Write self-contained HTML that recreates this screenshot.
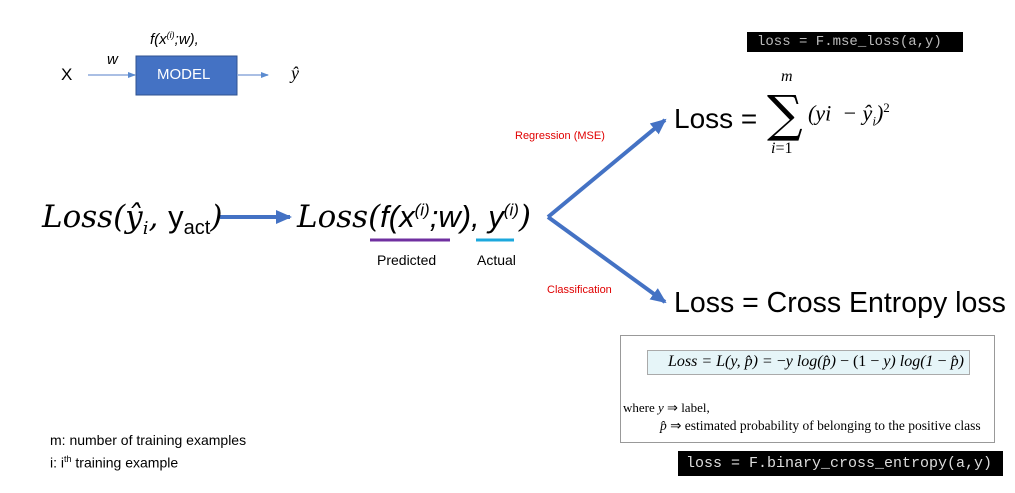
<!DOCTYPE html>
<html><head><meta charset="utf-8"><style>
body{margin:0;width:1015px;height:493px;background:#fff;position:relative;overflow:hidden;font-family:"Liberation Sans",sans-serif;}
.a{position:absolute;white-space:nowrap;}
.m{font-family:"Liberation Serif",serif;font-style:italic;}
.code{position:absolute;background:#000;color:#ddd;font-family:"Liberation Mono",monospace;}
</style></head><body>
<svg width="1015" height="493" style="position:absolute;left:0;top:0">
<defs>
<marker id="s" markerWidth="8" markerHeight="8" refX="7" refY="4" orient="auto" markerUnits="userSpaceOnUse"><path d="M0,1 L8,4 L0,7z" fill="#5b8bd0"/></marker>
<marker id="b" markerWidth="16" markerHeight="16" refX="14" refY="8" orient="auto" markerUnits="userSpaceOnUse"><path d="M0,1 L16,8 L0,15z" fill="#4472C4"/></marker>
</defs>
<line x1="88" y1="75" x2="135" y2="75" stroke="#8eaadb" stroke-width="1.5" marker-end="url(#s)"/>
<rect x="136" y="56" width="101" height="39" fill="#4472C4" stroke="#2f528f"/>
<line x1="237" y1="75" x2="268" y2="75" stroke="#8eaadb" stroke-width="1.5" marker-end="url(#s)"/>
<line x1="220" y1="217" x2="290" y2="217" stroke="#4472C4" stroke-width="4" marker-end="url(#b)"/>
<line x1="370" y1="240" x2="450" y2="240" stroke="#7030a0" stroke-width="3"/>
<line x1="476" y1="240" x2="514" y2="240" stroke="#1ca8dd" stroke-width="3"/>
<line x1="548" y1="217" x2="665" y2="120" stroke="#4472C4" stroke-width="4" marker-end="url(#b)"/>
<line x1="548" y1="217" x2="665" y2="302" stroke="#4472C4" stroke-width="4" marker-end="url(#b)"/>
<rect x="620.5" y="335.5" width="374" height="107" fill="#fff" stroke="#999"/>
<rect x="647.5" y="350.5" width="322" height="24" fill="#e6f5f8" stroke="#aaa"/>
</svg>
<div class="a" style="left:61px;top:65px;font-size:17px">X</div>
<div class="a" style="left:107px;top:51px;font-size:15px;font-style:italic">w</div>
<div class="a" style="left:157px;top:66px;font-size:15px;color:#fff">MODEL</div>
<div class="a" style="left:150px;top:30px;font-size:15px;font-style:italic">f(x<sup style="font-size:9px">(i)</sup>;w),</div>
<div class="a m" style="left:291px;top:63px;font-size:18px">ŷ</div>

<div class="a m" style="left:42px;top:199px;font-size:31px;font-family:'DejaVu Serif',serif">Loss(ŷ<sub style="font-size:18px">i</sub>, <span style="font-family:'Liberation Sans';font-style:normal">y<sub style="font-size:20px">act</sub></span>)</div>
<div class="a" style="left:297px;top:199px;font-size:31px;font-style:italic"><span style="font-family:'DejaVu Serif',serif">Loss(</span>f(x<sup style="font-size:17px">(i)</sup>;w), y<sup style="font-size:17px">(i)</sup><span style="font-family:'DejaVu Serif',serif">)</span></div>
<div class="a" style="left:377px;top:252px;font-size:14px">Predicted</div>
<div class="a" style="left:477px;top:252px;font-size:14px">Actual</div>

<div class="a" style="left:515px;top:130px;font-size:11px;color:#e00000">Regression (MSE)</div>
<div class="a" style="left:547px;top:284px;font-size:11px;color:#e00000">Classification</div>

<div class="code" style="left:747px;top:32px;width:216px;height:20px;font-size:14px;line-height:20px;padding-left:10px;box-sizing:border-box;color:#bbb">loss = F.mse_loss(a,y)</div>
<div class="a" style="left:674px;top:103px;font-size:28px">Loss =</div>
<div class="a" style="left:767px;top:84px;font-size:50px;font-family:'DejaVu Serif',serif;line-height:60px">∑</div>
<div class="a m" style="left:781px;top:68px;font-size:16px">m</div>
<div class="a m" style="left:771px;top:140px;font-size:16px">i<span style="font-style:normal">=1</span></div>
<div class="a m" style="left:808px;top:100px;font-size:22px">(yi &nbsp;− ŷ<sub style="font-size:13px">i</sub>)<sup style="font-size:13px;font-style:normal">2</sup></div>

<div class="a" style="left:674px;top:287px;font-size:28.5px">Loss = Cross Entropy loss</div>

<div class="a m" style="left:668px;top:353px;font-size:16px">Loss = L(y, p̂) = <span style="font-style:normal">−</span>y log(p̂) <span style="font-style:normal">− (1 −</span> y) log(1 <span style="font-style:normal">−</span> p̂)</div>
<div class="a" style="left:623px;top:400px;font-size:13px;font-family:'Liberation Serif',serif">where <i>y</i> ⇒ label,</div>
<div class="a" style="left:660px;top:418px;font-size:13.5px;font-family:'Liberation Serif',serif"><i>p̂</i> ⇒ estimated probability of belonging to the positive class</div>

<div class="code" style="left:678px;top:451px;width:325px;height:25px;font-size:15px;line-height:25px;padding-left:8px;box-sizing:border-box">loss = F.binary_cross_entropy(a,y)</div>

<div class="a" style="left:50px;top:432px;font-size:14px">m: number of training examples</div>
<div class="a" style="left:50px;top:454px;font-size:14px">i: i<sup style="font-size:9px">th</sup> training example</div>
</body></html>
